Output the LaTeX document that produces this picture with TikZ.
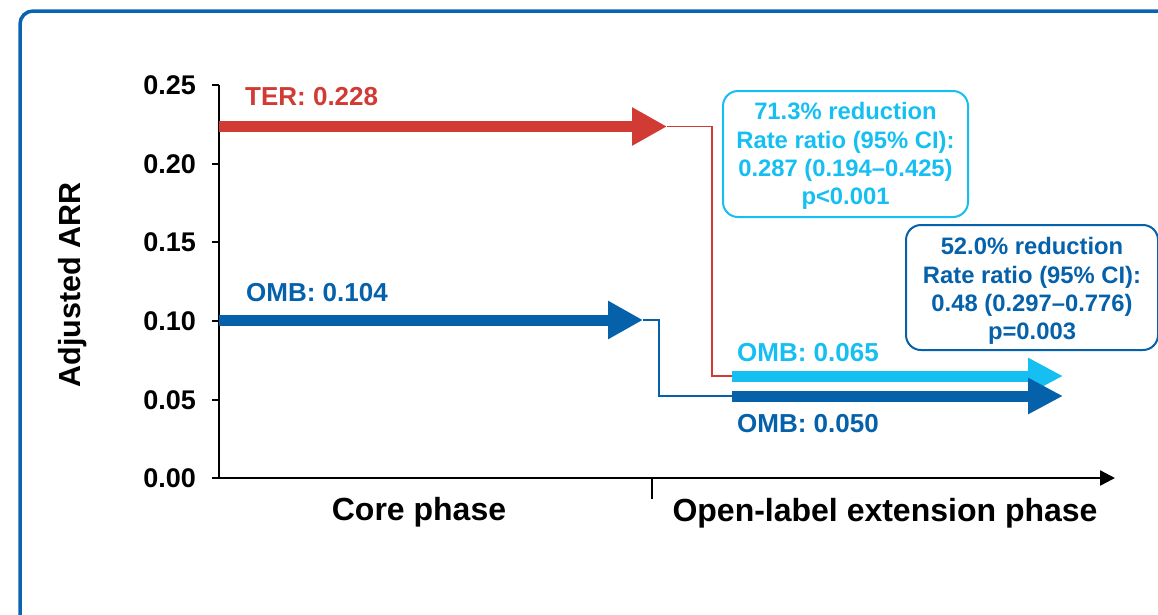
\documentclass[tikz,border=0pt]{standalone}
\usepackage{fontspec}
\setmainfont{Liberation Sans}
\usetikzlibrary{arrows.meta}
\definecolor{terred}{HTML}{D13B34}
\definecolor{ombblue}{HTML}{0561AA}
\definecolor{omblight}{HTML}{16BFF2}
\definecolor{framecol}{HTML}{0A63AE}
\begin{document}
\begin{tikzpicture}[x=1pt,y=-1pt,
  fatarrow/.style={line width=11pt,-{Triangle[length=35pt,width=36pt]}},
  linkline/.style={line width=1.8pt},
  axisline/.style={line width=2.4pt,black},
  ticklab/.style={anchor=east,inner sep=0pt,font=\fontsize{27}{30}\selectfont\bfseries},
  serieslab/.style={anchor=west,inner sep=0pt,font=\fontsize{26}{30}\selectfont\bfseries},
  phaselab/.style={anchor=base,inner sep=0pt,font=\fontsize{32}{36}\selectfont\bfseries},
  resbox/.style={draw,line width=2pt,rounded corners=15pt,inner sep=0pt},
  restext/.style={align=center,inner sep=0pt,font=\fontsize{23.8}{28.3}\selectfont\bfseries}
]
\useasboundingbox (0,0) rectangle (1158,614);
\clip (0,0) rectangle (1158,614);
% outer frame
\draw[framecol,line width=3.5pt,rounded corners=13pt] (20,11) rectangle (1180,640);

% axes
\coordinate (ytop) at (219,85);
\coordinate (origin) at (219,478);
\coordinate (xstart) at (212,478);
\coordinate (xend) at (1115,478);
\draw[axisline] (ytop) -- (origin);
\draw[axisline,-{Triangle[length=15pt,width=15pt]}] (xstart) -- (xend);
\foreach \v/\y in {0.25/85,0.20/164,0.15/242,0.10/321,0.05/400,0.00/478}{
  \draw[axisline] (212,\y) -- (219,\y);
  \node[ticklab] (tick\y) at (196,\y) {\v};
}
\coordinate (midtop) at (652,478);
\coordinate (midbot) at (652,499);
\draw[axisline] (midtop) -- (midbot);

\node[rotate=90,inner sep=0pt,font=\fontsize{30.5}{34}\selectfont\bfseries] (ylab) at (73,285) {Adjusted ARR};
\node[phaselab] (core) at (419,520) {Core phase};
\node[phaselab] (ole) at (885,521) {Open-label extension phase};

% TER core arrow
\coordinate (terA) at (219,126.5);
\coordinate (terB) at (667,126.5);
\draw[fatarrow,terred] (terA) -- (terB);
\node[serieslab,text=terred] (terlab) at (245,97) {TER: 0.228};

% OMB core arrow
\coordinate (ombA) at (219,320);
\coordinate (ombB) at (643,320);
\draw[fatarrow,ombblue] (ombA) -- (ombB);
\node[serieslab,text=ombblue] (omblab) at (246,293) {OMB: 0.104};

% extension arrows
\coordinate (swA) at (732,376);
\coordinate (swB) at (1063,376);
\coordinate (conA) at (732,396);
\coordinate (conB) at (1063,396);
\draw[terred,linkline] (terB) -- (712,126.5) -- (712,376) -- (swA);
\draw[ombblue,linkline] (ombB) -- (659,320) -- (659,396) -- (conA);
\draw[line width=11pt,omblight,-{Triangle[length=35pt,width=34pt]}] (swA) -- (swB);
\draw[line width=11pt,ombblue,-{Triangle[length=35pt,width=34pt]}] (conA) -- (conB);
\node[serieslab,text=omblight] (swlab) at (737,353) {OMB: 0.065};
\node[serieslab,text=ombblue] (conlab) at (737,424) {OMB: 0.050};

% result boxes
\node[resbox,draw=omblight,minimum width=245pt,minimum height=126pt] (box1) at (845.5,154) {};
\node[restext,text=omblight] (box1txt) at (845.5,156)
  {71.3\% reduction\\Rate ratio (95\% CI):\\0.287 (0.194–0.425)\\p<0.001};
\node[resbox,draw=ombblue,minimum width=252pt,minimum height=125pt] (box2) at (1032,287.5) {};
\node[restext,text=ombblue] (box2txt) at (1032,291)
  {52.0\% reduction\\Rate ratio (95\% CI):\\0.48 (0.297–0.776)\\p=0.003};
\end{tikzpicture}
\end{document}
